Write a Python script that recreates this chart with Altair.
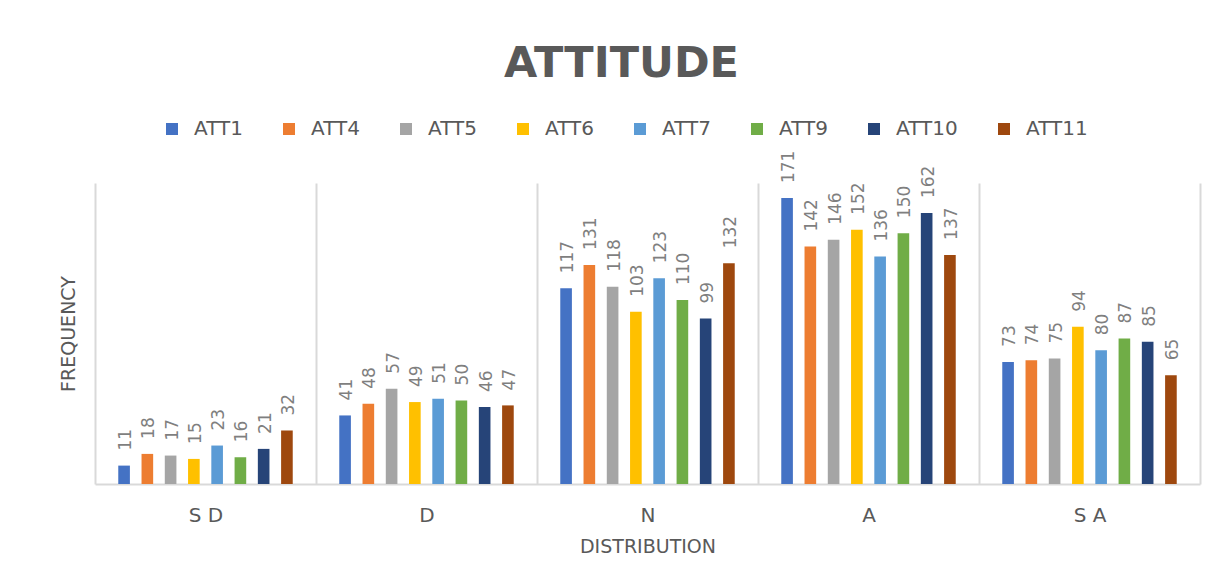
import altair as alt
import pandas as pd

categories = ["S D", "D", "N", "A", "S A"]
series = ["ATT1", "ATT4", "ATT5", "ATT6", "ATT7", "ATT9", "ATT10", "ATT11"]
colors = ["#4472C4", "#ED7D31", "#A5A5A5", "#FFC000", "#5B9BD5", "#70AD47", "#264478", "#9E480E"]

att1 = [11, 41, 117, 171, 73]
att4 = [18, 48, 131, 142, 74]
att5 = [17, 57, 118, 146, 75]
att6 = [15, 49, 103, 152, 94]
att7 = [23, 51, 123, 136, 80]
att9 = [16, 50, 110, 150, 87]
att10 = [21, 46, 99, 162, 85]
att11 = [32, 47, 132, 137, 65]

values = [att1, att4, att5, att6, att7, att9, att10, att11]
rows = []
for s, vals in zip(series, values):
    for c, v in zip(categories, vals):
        rows.append({"Distribution": c, "Item": s, "Frequency": v})
df = pd.DataFrame(rows)

FONT = "DejaVu Sans"

x_enc = alt.X("Distribution:N", sort=categories,
              scale=alt.Scale(paddingInner=0, paddingOuter=0),
              axis=alt.Axis(title="DISTRIBUTION", labelAngle=0, ticks=False,
                            grid=True, tickBand="extent", labelPadding=21,
                            titlePadding=12))
xo_enc = alt.XOffset("Item:N", sort=series,
                     scale=alt.Scale(paddingInner=0.5, paddingOuter=1))
y_enc = alt.Y("Frequency:Q", scale=alt.Scale(domain=[0, 180], nice=False),
              axis=alt.Axis(title="FREQUENCY", labels=False, ticks=False,
                            domain=False, grid=False, titlePadding=17))

base = alt.Chart(df)

bars = base.mark_bar().encode(
    x=x_enc,
    xOffset=xo_enc,
    y=y_enc,
    color=alt.Color("Item:N", sort=series,
                    scale=alt.Scale(domain=series, range=colors),
                    legend=alt.Legend(title=None, orient="none", direction="horizontal",
                                      columns=8, legendX=67, legendY=-64,
                                      symbolType="square", symbolSize=144,
                                      symbolStrokeWidth=0, labelFontSize=20,
                                      labelFont=FONT, labelColor="#595959",
                                      columnPadding=36, labelOffset=12, padding=0)),
)

labels = base.mark_text(angle=270, align="left", baseline="middle", dx=15, dy=2,
                        fontSize=17, font=FONT, color="#7f7f7f").encode(
    x=alt.X("Distribution:N", sort=categories),
    xOffset=alt.XOffset("Item:N", sort=series),
    y=alt.Y("Frequency:Q"),
    text=alt.Text("Frequency:Q"),
)

chart = alt.layer(bars, labels).properties(
    width=1105,
    height=301,
    autosize=alt.AutoSizeParams(type="none"),
    padding={"left": 87, "top": 175, "right": 10, "bottom": 90},
    title=alt.TitleParams("ATTITUDE", fontSize=43, font=FONT, fontWeight="bold",
                          color="#595959", anchor="middle", dx=-26, offset=-1,
                          baseline="alphabetic"),
    background="white",
).configure_view(stroke=None).configure_axis(
    labelFont=FONT, titleFont=FONT, labelColor="#595959", titleColor="#595959",
    labelFontSize=20, titleFontSize=19, titleFontWeight="normal",
    gridColor="#d9d9d9", gridWidth=2, domainColor="#d9d9d9", domainWidth=2,
)

chart.save("out.html", embed_options={"renderer": "svg", "actions": False})
